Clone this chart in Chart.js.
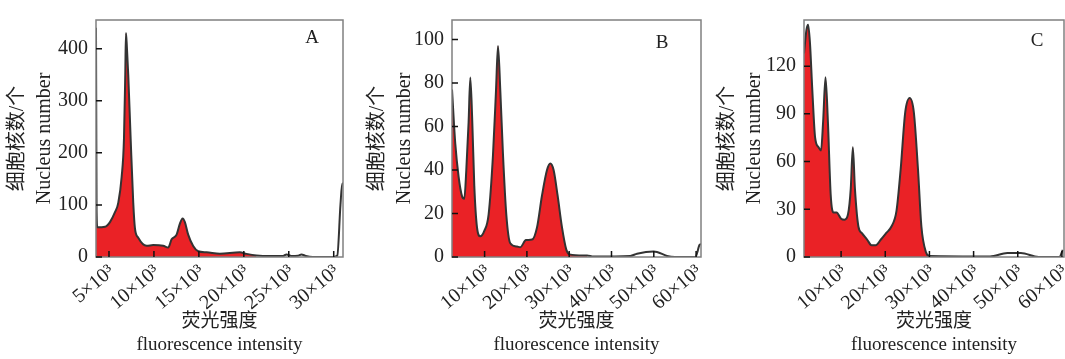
<!DOCTYPE html>
<html>
<head>
<meta charset="utf-8">
<script src="https://cdn.jsdelivr.net/npm/chart.js@4.4.1/dist/chart.umd.min.js"></script>
<style>
    body { margin: 0; background: #fff; }
    .panel { position: absolute; top: 0; height: 359px; }
</style>
</head>
<body>
<div class="panel" style="left:0;width:355px"><canvas id="chart-a"></canvas></div>
<div class="panel" style="left:360px;width:350px"><canvas id="chart-b"></canvas></div>
<div class="panel" style="left:710px;width:355px"><canvas id="chart-c"></canvas></div>
<script>
// Panel A
const aX = [3556, 3580, 3620, 3700, 4556, 5111, 5667, 6033, 6411, 6667, 6811, 6889, 7000, 7144, 7411, 7700, 7889, 8256, 9189, 9922, 11033, 11589, 11967, 12522, 12889, 13189, 13444, 13811, 14367, 14922, 15856, 17333, 19556, 20300, 21411, 23000, 24367, 24744, 25300, 26000, 26411, 26900, 27667, 29889, 30400, 30750, 30950, 31033];
const aY = [440, 300, 90, 57, 58, 67, 86, 104, 154, 227, 350, 430, 400, 350, 227, 104, 55, 37, 21.5, 23, 21.5, 18, 34, 43, 64, 74, 67, 43, 21, 11, 9, 6, 9, 6, 3, 2, 2, 5, 2, 2.5, 5, 2, 0, 0, 3, 100, 141, 141];
const aFillEnd = 21411;
const aXTicks = [5000, 10000, 15000, 20000, 25000, 30000];
const aYTicks = [0, 100, 200, 300, 400];

// Panel B
const bX = [2293, 3073, 3853, 4657, 5201, 5674, 6218, 6620, 7092, 7565, 8203, 8983, 9929, 10946, 11986, 12695, 13168, 13712, 14350, 15130, 16076, 17660, 18440, 19787, 21205, 22387, 23569, 24751, 25531, 26312, 27258, 28298, 29314, 30094, 34207, 35767, 44444, 46028, 49952, 50756, 53120, 55000, 59811, 60828, 61159];
const bY = [77, 52, 37, 28, 26.8, 40, 62, 82.5, 62, 32.7, 13.6, 9.5, 12, 19.5, 47, 76.6, 97, 76.6, 47, 19.5, 6.3, 4.8, 4.5, 7.8, 8, 13.6, 28.3, 40, 43, 40, 28.3, 13.6, 3.4, 1.2, 0.7, 0.2, 0.5, 1.5, 2.5, 2.3, 0.5, 0, 0, 5.6, 6];
const bFillEnd = 34207;
const bXTicks = [10000, 20000, 30000, 40000, 50000, 60000];
const bYTicks = [0, 20, 40, 60, 80, 100];

// Panel C
const cX = [1600, 2165, 2541, 2941, 3482, 4118, 4894, 5459, 5929, 6471, 7012, 7647, 8282, 8988, 10000, 10776, 11576, 12188, 12659, 13129, 13929, 14706, 15882, 16894, 17835, 19012, 20188, 21365, 22541, 23482, 24518, 25529, 26471, 27412, 28188, 29224, 30000, 43718, 47647, 50706, 54706, 59412, 60188];
const cY = [128, 143, 146, 135, 105, 75, 69, 67, 85, 113, 85, 39, 28, 28, 24, 23.4, 27, 43, 69, 43, 19, 15, 11, 7.4, 7.4, 11, 15, 19, 29, 55, 91, 100, 91, 55, 19, 3, 0.6, 0.3, 2.5, 2.5, 0, 0, 4.5];
const cFillEnd = 30000;
const cXTicks = [10000, 20000, 30000, 40000, 50000, 60000];
const cYTicks = [0, 30, 60, 90, 120];

const FONT = '"Liberation Serif", "Noto Sans CJK SC", serif';

// frame round the plot, inward ticks and the panel letter
const framePlugin = {
    id: 'frame',
    afterDatasetsDraw(chart, args, opts) {
        const { ctx, chartArea: a, scales: { x, y } } = chart;
        ctx.save();
        ctx.strokeStyle = '#808080';
        ctx.lineWidth = 1.5;
        ctx.strokeRect(a.left, a.top, a.right - a.left, a.bottom - a.top);
        ctx.strokeStyle = '#111';
        ctx.beginPath();
        x.ticks.forEach(t => {
            const px = x.getPixelForValue(t.value);
            ctx.moveTo(px, a.bottom);
            ctx.lineTo(px, a.bottom - 6);
        });
        y.ticks.forEach(t => {
            const py = y.getPixelForValue(t.value);
            ctx.moveTo(a.left, py);
            ctx.lineTo(a.left + 6, py);
        });
        ctx.stroke();
        ctx.fillStyle = '#222';
        ctx.font = '19px ' + FONT;
        ctx.textAlign = 'center';
        ctx.textBaseline = 'middle';
        ctx.fillText(opts.letter, a.right - opts.dx, a.top + opts.dy);
        ctx.restore();
    }
};

function createPanel(canvasId, xs, ys, fillEnd, xMin, xMax, yMax, xTicks, yTicks, box) {
    const points = xs.map((x, i) => ({ x: x, y: ys[i] }));
    const ctx = document.getElementById(canvasId).getContext('2d');
    return new Chart(ctx, {
        type: 'line',
        data: {
            datasets: [{
                data: points,
                borderColor: '#333',
                borderWidth: 2,
                fill: false,
                pointRadius: 0,
                cubicInterpolationMode: 'monotone'
            }, {
                data: points.filter(p => p.x <= fillEnd),
                borderWidth: 0,
                backgroundColor: '#ea2226',
                fill: 'origin',
                pointRadius: 0,
                cubicInterpolationMode: 'monotone'
            }]
        },
        options: {
            responsive: true,
            maintainAspectRatio: false,
            animation: false,
            layout: { padding: { top: 9, right: box.padRight, left: 0, bottom: 0 } },
            plugins: {
                legend: { display: false },
                tooltip: { enabled: false },
                frame: { letter: box.letter, dx: box.dx, dy: box.dy }
            },
            scales: {
                x: {
                    type: 'linear',
                    min: xMin,
                    max: xMax,
                    grid: { display: false, drawTicks: false },
                    border: { display: false },
                    afterBuildTicks: s => { s.ticks = xTicks.map(v => ({ value: v })); },
                    afterFit: s => { s.height = 102; s.paddingLeft = 0; s.paddingRight = 0; },
                    ticks: {
                        color: '#222',
                        font: { family: FONT, size: 20 },
                        minRotation: 40,
                        maxRotation: 40,
                        padding: 3,
                        labelOffset: 3,
                        callback: v => (v / 1000) + '×10³'
                    },
                    title: {
                        display: true,
                        text: ['荧光强度', 'fluorescence intensity'],
                        color: '#222',
                        font: { family: FONT, size: 19, lineHeight: 1.22 },
                        padding: { top: 0, bottom: 2 }
                    }
                },
                y: {
                    min: 0,
                    max: yMax,
                    grid: { display: false, drawTicks: false },
                    border: { display: false },
                    afterBuildTicks: s => { s.ticks = yTicks.map(v => ({ value: v })); },
                    afterFit: s => { s.width = box.yWidth; },
                    ticks: {
                        color: '#222',
                        font: { family: FONT, size: 20 },
                        padding: 8
                    },
                    title: {
                        display: true,
                        text: ['细胞核数/个', 'Nucleus number'],
                        color: '#222',
                        font: { family: FONT, size: 20, lineHeight: 1.35 },
                        padding: { top: 4, bottom: 0 }
                    }
                }
            }
        },
        plugins: [framePlugin]
    });
}

createPanel('chart-a', aX, aY, aFillEnd, 3556, 31033, 455, aXTicks, aYTicks,
    { yWidth: 96, padRight: 12, letter: 'A', dx: 31, dy: 18 });
createPanel('chart-b', bX, bY, bFillEnd, 2293, 61159, 109, bXTicks, bYTicks,
    { yWidth: 92, padRight: 9, letter: 'B', dx: 39, dy: 23 });
createPanel('chart-c', cX, cY, cFillEnd, 1600, 60470, 149, cXTicks, cYTicks,
    { yWidth: 94, padRight: 1, letter: 'C', dx: 27, dy: 21 });
</script>
</body>
</html>
